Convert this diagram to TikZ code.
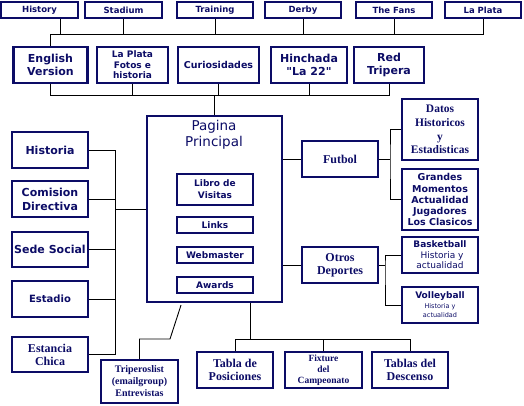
\documentclass[tikz,border=0pt]{standalone}
\usepackage{fontspec}
\newfontfamily\verdanafont{DejaVu Sans}
\newfontfamily\romanfont{Liberation Serif}
\definecolor{navy}{RGB}{12,12,102}
\newcommand{\sansbf}[1]{\verdanafont\bfseries\fontsize{#1}{#1}\selectfont}
\newcommand{\romanbf}[1]{\romanfont\bfseries\fontsize{#1}{#1}\selectfont}

\begin{document}
\begin{tikzpicture}[x=1pt,y=-1pt]
				\tikzstyle{box}=[draw=navy,line width=2.2pt,inner sep=0pt,align=center,text=navy]
				\tikzstyle{topbox}=[box,minimum width=76pt,minimum height=16pt,font=\sansbf{8.5}]
				\tikzstyle{secbox}=[box,minimum height=36pt]
				\tikzstyle{sidebox}=[box,minimum width=76pt,minimum height=36pt]
				\tikzstyle{inbox}=[box,minimum width=76pt,minimum height=16pt,font=\sansbf{9}]
				\tikzstyle{link}=[line width=0.9pt]
				\useasboundingbox (0,0) rectangle (524,405);

				% top row
				\node [topbox,minimum width=77pt] (history) at (39.5,10) {History};
				\node [topbox,minimum width=77pt] (stadium) at (123.5,10) {Stadium};
				\node [topbox] (training) at (215,10) {Training};
				\node [topbox] (derby) at (303,10) {Derby};
				\node [topbox] (fans) at (394,10) {The Fans};
				\node [topbox] (laplata) at (483,10) {La Plata};

				% second row
				\node [secbox,minimum width=74pt,font=\sansbf{11}] (english) at (50.5,65) {English\\[2pt]Version};
				\node [secbox,minimum width=71pt,font=\sansbf{9}] (fotos) at (132.5,65) {La Plata\\[2pt]Fotos e\\[1pt]historia};
				\node [secbox,minimum width=81pt,font=\sansbf{9.5}] (curio) at (218.5,65) {Curiosidades};
				\node [secbox,minimum width=76pt,font=\sansbf{11}] (hinchada) at (309,65) {Hinchada\\[2pt]"La 22"};
				\node [secbox,minimum width=70pt,font=\sansbf{11}] (red) at (389,65) {Red\\[2pt]Tripera};

				\coordinate (topbus) at (english.north |- 0,34);
				\coordinate (secbus) at (english.south |- 0,95);
				\draw [link] ([xshift=20.5pt]history.south) |- (topbus) -- (english.north);
				\draw [link] (topbus) -- (topbus -| laplata.south) -- (laplata.south);
				\foreach \n in {stadium,training,derby,fans}
					\draw [link] (\n.south) -- (\n.south |- topbus);
				\draw [link] (english.south) -- (secbus) -- (secbus -| red.south) -- (red.south);
				\foreach \n in {fotos,curio,hinchada}
					\draw [link] (\n.south) -- (\n.south |- secbus);

				% pagina principal
				\node [box,minimum width=135pt,minimum height=186pt] (main) at (214.5,209) {};
				\node [text=navy,font=\verdanafont\fontsize{13.5}{16}\selectfont,align=center] (title) at (214,135) {Pagina\\Principal};
				\node [inbox,minimum height=31pt] (libro) at (215,189.5) {Libro de\\[3pt]Visitas};
				\node [inbox] (links) at (215,225) {Links};
				\node [inbox] (webmaster) at (215,255) {Webmaster};
				\node [inbox] (awards) at (215,285) {Awards};
				\draw [link] (main.north) -- (main.north |- secbus);

				% left column
				\node [sidebox,font=\sansbf{11}] (historia) at (50,150) {Historia};
				\node [sidebox,font=\sansbf{11}] (comision) at (50,199) {Comision\\[3pt]Directiva};
				\node [sidebox,minimum height=35pt,font=\sansbf{11}] (sede) at (50,249.5) {Sede Social};
				\node [sidebox,font=\sansbf{10}] (estadio) at (50,299) {Estadio};
				\node [sidebox,minimum height=35pt,font=\romanbf{12}] (estancia) at (50,354.5) {Estancia\\[1pt]Chica};

				\coordinate (leftbus) at (115,209);
				\draw [link] (historia.east -| leftbus) -- (estancia.east -| leftbus);
				\foreach \n in {historia,comision,sede,estadio,estancia}
					\draw [link] (\n.east) -- (\n.east -| leftbus);
				\draw [link] (leftbus) -- (main.west);

				% right side
				\node [sidebox,font=\romanbf{12}] (futbol) at (340,159) {Futbol};
				\node [sidebox,font=\romanbf{12}] (otros) at (340,265) {Otros\\[1pt]Deportes};
				\node [sidebox,minimum height=61pt,font=\romanbf{11.5}] (datos) at (440,129.5) {Datos\\[2pt]Historicos\\[2.5pt]y\\[2pt]Estadisticas};
				\node [sidebox,minimum height=61pt,font=\sansbf{9.5}] (grandes) at (440,199.5) {Grandes\\[2.5pt]Momentos\\[1.5pt]Actualidad\\[1.5pt]Jugadores\\[1.5pt]Los Clasicos};
				\node [sidebox,font=\verdanafont\fontsize{9}{10.5}\selectfont] (basket) at (440,255) {{\bfseries Basketball}\\\hspace{4pt}Historia y\\actualidad};
				\node [sidebox,font=\verdanafont\fontsize{6.5}{9}\selectfont] (volley) at (440,305) {{\bfseries\fontsize{9}{9}\selectfont Volleyball}\\[1pt]Historia y\\actualidad};

				\coordinate (futbus) at (390,159);
				\coordinate (otrbus) at (385,265);
				\draw [link] (futbol.west) -- (futbol.west -| main.east);
				\draw [link] (otros.west) -- (otros.west -| main.east);
				\draw [link] (futbol.east) -- (futbus);
				\draw [link] (datos.west) -| (futbus) |- (grandes.west);
				\draw [link] (otros.east) -- (otrbus);
				\draw [link] (basket.west) -| (otrbus) |- (volley.west);

				% bottom row
				\node [sidebox,font=\romanbf{12}] (tabla) at (235,370) {Tabla de\\[1pt]Posiciones};
				\node [sidebox,minimum width=77pt,font=\romanbf{9.5}] (fixture) at (323.5,370) {Fixture\\[1.5pt]del\\[1.5pt]Campeonato};
				\node [sidebox,font=\romanbf{12}] (descenso) at (410,370) {Tablas del\\[1pt]Descenso};
				\node [sidebox,minimum width=77pt,minimum height=43pt,font=\romanbf{10}] (triperos) at (139.5,381.5) {Triperoslist\\[2pt](emailgroup)\\[2pt]Entrevistas};

				\coordinate (botbus) at (250,339);
				\coordinate (tribend) at (170,339);
				\draw [link] (botbus |- main.south) -- (botbus);
				\draw [link] (tabla.north) -- (tabla.north |- botbus) -- (descenso.north |- botbus) -- (descenso.north);
				\draw [link] (fixture.north) -- (fixture.north |- botbus);
				\draw [link] ([xshift=-33.5pt,yshift=-2pt]main.south) -- (tribend) -| (triperos.north);
\end{tikzpicture}
\end{document}
